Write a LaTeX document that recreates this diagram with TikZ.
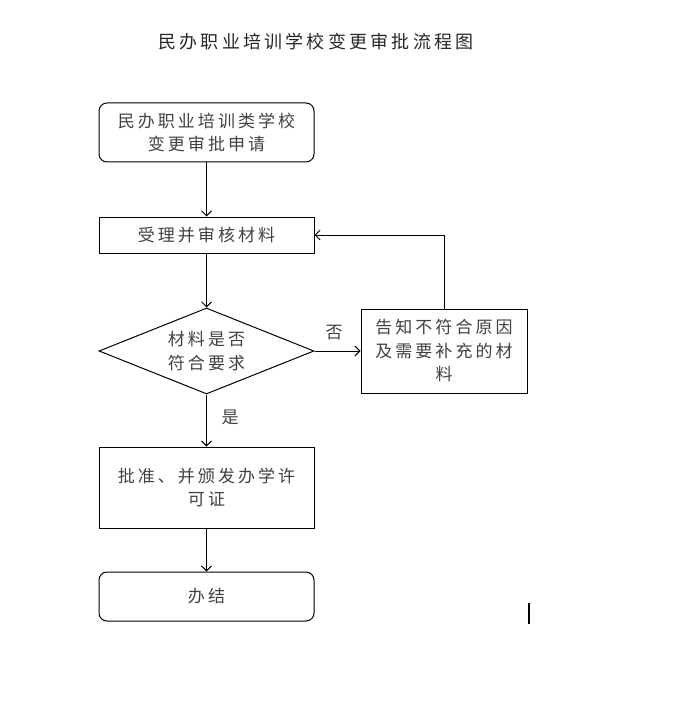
\documentclass[tikz,border=0pt]{standalone}
\usepackage{fontspec}
\newfontfamily\cjk[LetterSpace=18]{Noto Sans CJK SC}
\newfontfamily\cjktitle[LetterSpace=18]{Noto Sans CJK SC}
\usetikzlibrary{shapes.geometric,arrows.meta}
\tikzset{
  box/.style={draw, line width=1pt, minimum width=215pt, align=center, inner sep=0pt,
    font=\cjk\fontsize{17}{23.5}\selectfont, text=black!75},
  rbox/.style={box, rounded corners=8pt},
  decision/.style={box, diamond, shape aspect=2.5, minimum width=215pt, minimum height=86pt},
  lbl/.style={font=\cjk\fontsize{17}{18}\selectfont, text=black!75, inner sep=0pt},
  arr/.style={line width=0.9pt, -{Straight Barb[length=5pt,width=10pt,line width=0.9pt]}},
}
\begin{document}
\begin{tikzpicture}[x=1pt,y=-1pt]
\useasboundingbox (0,0) rectangle (673,714);
\node[font=\cjktitle\fontsize{18}{20}\selectfont, text=black!85, inner sep=0pt] (title) at (316,42) {民办职业培训学校变更审批流程图};
\node[rbox, minimum height=59pt] (n1) at (206.5,132.5) {民办职业培训类学校\\变更审批申请};
\node[box, minimum height=36pt] (n2) at (206.5,235) {受理并审核材料};
\node[decision] (d) at (206.5,351) {材料是否\\符合要求};
\node[box, minimum width=166pt, minimum height=84pt] (n3) at (444,351) {告知不符合原因\\及需要补充的材\\料};
\node[box, minimum height=81pt] (n4) at (206.5,487.5) {批准、并颁发办学许\\可证};
\node[rbox, minimum height=49pt] (n5) at (206.5,596.5) {办结};
\node[lbl] (no) at (334,333) {否};
\node[lbl] (yes) at (230,417) {是};
\draw[arr] (n1.south) -- (n2.north);
\draw[arr] (n2.south) -- (d.north);
\draw[arr] (d.east) -- (n3.west);
\draw[arr] (n3.north) |- (n2.east);
\draw[arr] (d.south) -- (n4.north);
\draw[arr] (n4.south) -- (n5.north);
\draw[line width=2pt] (529,603) -- (529,624);
\end{tikzpicture}
\end{document}
